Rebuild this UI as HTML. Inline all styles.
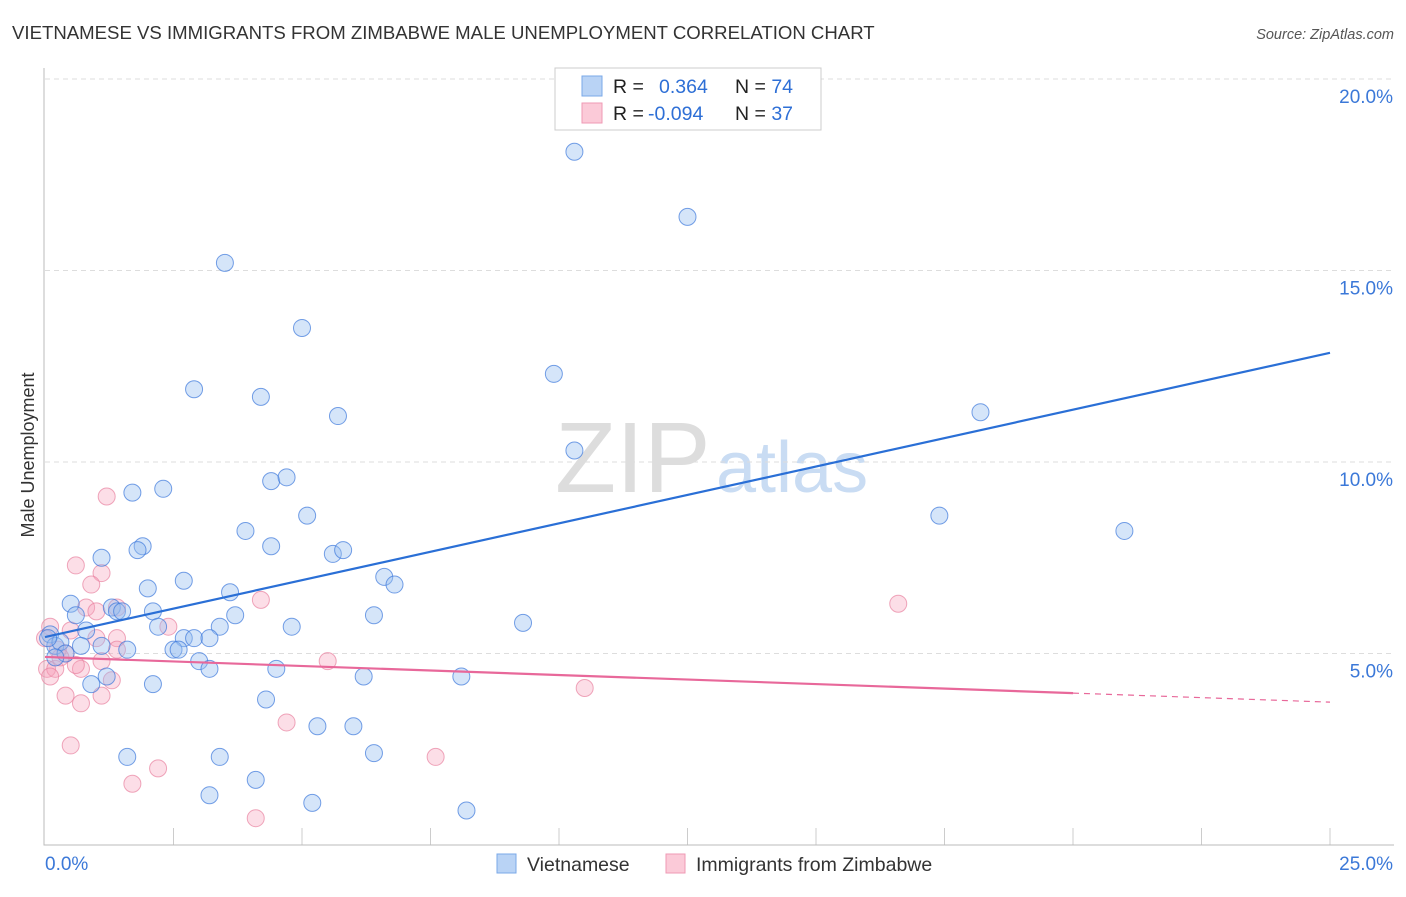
<!DOCTYPE html>
<html><head><meta charset="utf-8"><style>
body{margin:0;background:#fff;font-family:"Liberation Sans",sans-serif}
svg text{font-family:"Liberation Sans",sans-serif}
</style></head><body>
<svg id="c" width="1406" height="892" xmlns="http://www.w3.org/2000/svg">
<text x="12" y="39" font-size="18.6" fill="#333">VIETNAMESE VS IMMIGRANTS FROM ZIMBABWE MALE UNEMPLOYMENT CORRELATION CHART</text>
<text x="1394" y="39" font-size="14.5" fill="#555" font-style="italic" text-anchor="end">Source: ZipAtlas.com</text>
<text transform="translate(34,455) rotate(-90)" font-size="18" fill="#333" text-anchor="middle">Male Unemployment</text>
<text x="555" y="492" font-size="100" fill="#ddd" font-family="Liberation Serif">ZIP</text>
<text x="716" y="492" font-size="72" fill="#c9dcf3">atlas</text>
<g id="grid"></g><g id="pts"></g><g id="lines"></g>
<g>
<rect x="555" y="68" width="266" height="62" fill="#fff" stroke="#ccc"/>
<rect x="582" y="76" width="20" height="20" fill="#b9d3f5" stroke="#7aa8e8"/>
<rect x="582" y="103" width="20" height="20" fill="#fbcad8" stroke="#ef9ab4"/>
<text x="613" y="93" font-size="19.5" fill="#222">R = <tspan x="659" fill="#2e6fd6">0.364</tspan><tspan x="735" fill="#222">N = </tspan><tspan fill="#2e6fd6">74</tspan></text>
<text x="613" y="120" font-size="19.5" fill="#222">R = <tspan x="648" fill="#2e6fd6">-0.094</tspan><tspan x="735" fill="#222">N = </tspan><tspan fill="#2e6fd6">37</tspan></text>
</g>
<g>
<rect x="497" y="854" width="19" height="19" fill="#b9d3f5" stroke="#7aa8e8"/>
<text x="527" y="871" font-size="19.5" fill="#333">Vietnamese</text>
<rect x="666" y="854" width="19" height="19" fill="#fbcad8" stroke="#ef9ab4"/>
<text x="696" y="871" font-size="19.5" fill="#333">Immigrants from Zimbabwe</text>
</g>
</svg>
<script>
const yTicks=[5,10,15,20];
const yTickLabels=["5.0%","10.0%","15.0%","20.0%"];
const xTickVals=[2.5,5,7.5,10,12.5,15,17.5,20,22.5,25];
const blueX=[10.3,12.5,3.5,5.0,2.9,4.2,5.7,9.9,10.3,18.2,1.7,2.3,4.4,4.7,5.1,3.9,4.4,1.9,1.8,1.1,5.6,5.8,17.4,21.0,2.7,2.0,3.6,6.6,6.8,0.5,0.6,1.3,1.4,2.1,3.7,6.4,9.3,2.2,3.4,4.8,0.8,0.1,0.2,0.7,1.1,1.6,2.7,2.9,3.2,2.5,2.6,3.0,3.2,4.5,6.2,8.1,0.9,2.1,1.2,4.3,5.3,6.0,1.6,3.4,6.4,4.1,3.2,5.2,8.2,0.3,0.4,0.06,0.2,1.5];
const blueY=[18.1,16.4,15.2,13.5,11.9,11.7,11.2,12.3,10.3,11.3,9.2,9.3,9.5,9.6,8.6,8.2,7.8,7.8,7.7,7.5,7.6,7.7,8.6,8.2,6.9,6.7,6.6,7.0,6.8,6.3,6.0,6.2,6.1,6.1,6.0,6.0,5.8,5.7,5.7,5.7,5.6,5.5,5.2,5.2,5.2,5.1,5.4,5.4,5.4,5.1,5.1,4.8,4.6,4.6,4.4,4.4,4.2,4.2,4.4,3.8,3.1,3.1,2.3,2.3,2.4,1.7,1.3,1.1,0.9,5.3,5.0,5.4,4.9,6.1];
const pinkX=[1.2,0.6,1.1,0.9,4.2,16.6,0.8,1.4,1.0,2.4,0.1,0.5,1.0,1.4,0.4,1.4,1.1,0.7,5.5,0.04,0.2,0.1,0.6,1.3,0.4,1.1,0.7,10.5,0.5,4.7,2.2,7.6,1.7,4.1,0.25,0.0,0.3];
const pinkY=[9.1,7.3,7.1,6.8,6.4,6.3,6.2,6.2,6.1,5.7,5.7,5.6,5.4,5.4,5.0,5.1,4.8,4.6,4.8,4.6,4.6,4.4,4.7,4.3,3.9,3.9,3.7,4.1,2.6,3.2,2.0,2.3,1.6,0.7,5.1,5.4,4.9];
const blueLine=[0,5.43,25,12.85];
const pinkLine=[0,4.91,20,25,3.73];
const X=v=>45+v*51.4, Y=v=>845-v*38.3;
const NS="http://www.w3.org/2000/svg";
function mk(t,a,p){const e=document.createElementNS(NS,t);for(const k in a)e.setAttribute(k,a[k]);p.appendChild(e);return e;}
const g=document.getElementById('grid');
yTicks.forEach((v,i)=>{
 const l=mk('line',{x1:45,x2:1394,y1:Y(v),y2:Y(v),stroke:'#ddd','stroke-dasharray':'5,4'},g);
 
 
 const t=mk('text',{x:1393,y:Y(v)+24,'font-size':19,fill:'#3b78d8','text-anchor':'end'},g);t.textContent=yTickLabels[i];
 
 
});
xTickVals.forEach(v=>{
 const l=mk('line',{x1:X(v),x2:X(v),y1:828,y2:845,stroke:'#ccc'},g);
 
 
});
const ax=mk('path',{d:'M44,68 V845 H1394',fill:'none',stroke:'#bbb'},g);


const x0=mk('text',{x:45,y:870,'font-size':19,fill:'#3b78d8'},g);x0.textContent='0.0%';


const x1=mk('text',{x:1393,y:870,'font-size':19,fill:'#3b78d8','text-anchor':'end'},g);x1.textContent='25.0%';


const P=document.getElementById('pts');
pinkX.forEach((v,i)=>{const c=mk('circle',{cx:X(v),cy:Y(pinkY[i]),r:8.5,fill:'rgba(245,160,185,0.35)',stroke:'rgba(232,130,160,0.7)','stroke-width':1},P);
 
 });
blueX.forEach((v,i)=>{const c=mk('circle',{cx:X(v),cy:Y(blueY[i]),r:8.5,fill:'rgba(150,190,240,0.4)',stroke:'rgba(60,120,220,0.7)','stroke-width':1},P);
 
 });
const L=document.getElementById('lines');
const bl=mk('line',{x1:X(blueLine[0]),y1:Y(blueLine[1]),x2:X(blueLine[2]),y2:Y(blueLine[3]),stroke:'#2a6fd6','stroke-width':2.2},L);


const slope=(pinkLine[4]-pinkLine[1])/(pinkLine[3]-pinkLine[0]);
const ym=pinkLine[1]+slope*pinkLine[2];
const pl=mk('line',{x1:X(pinkLine[0]),y1:Y(pinkLine[1]),x2:X(pinkLine[2]),y2:Y(ym),stroke:'#e8689a','stroke-width':2.2},L);


const pd=mk('line',{x1:X(pinkLine[2]),y1:Y(ym),x2:X(pinkLine[3]),y2:Y(pinkLine[4]),stroke:'#e8689a','stroke-width':1.2,'stroke-dasharray':'6,5'},L);


</script>
</body></html>
